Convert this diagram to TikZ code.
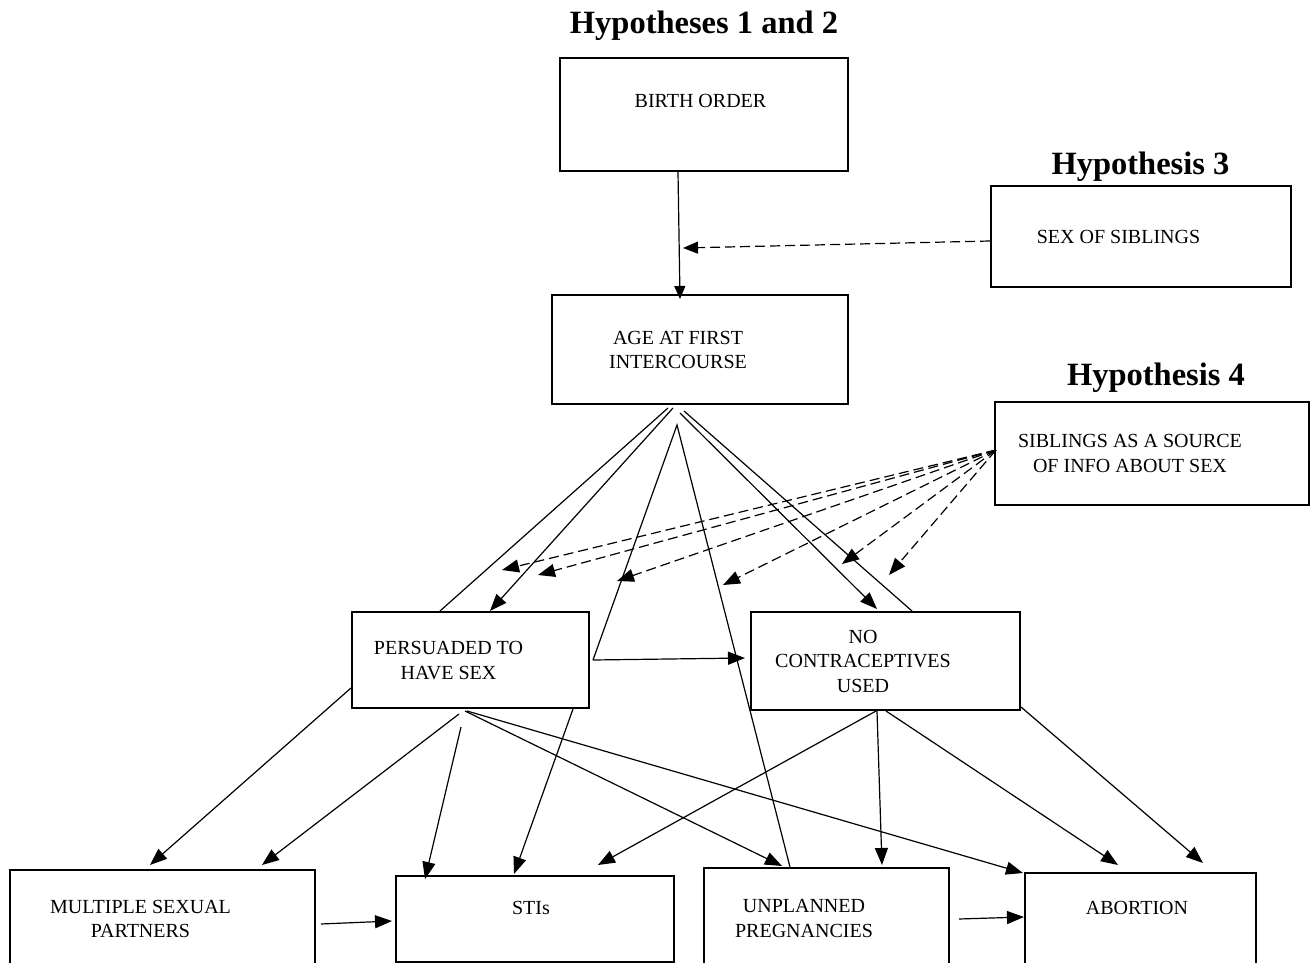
\documentclass[tikz,border=0pt]{standalone}
\usepackage{fontspec}
\setmainfont{Liberation Serif}
\usetikzlibrary{arrows.meta}

\tikzset{
  box/.style={draw, line width=2pt, inner sep=0pt},
  txt/.style={align=center, inner sep=0pt, font=\fontsize{20}{24.5}\selectfont},
  hyp/.style={anchor=base, inner sep=0pt, font=\fontsize{32.5}{36}\selectfont\bfseries},
  link/.style={line width=1.2pt},
  arr/.style={line width=1.2pt, -{Triangle[length=17pt,width=13pt]}},
  darr/.style={arr, dash pattern=on 10pt off 5pt}
}

\begin{document}
\begin{tikzpicture}[x=1pt,y=-1pt]
    \clip (0,0) rectangle (1310,963);
    \fill[white] (0,0) rectangle (1310,963);

    % titles
    \node[hyp] (hyp12) at (704,34) {Hypotheses 1 and 2};
    \node[hyp] (hyp3) at (1140.5,175) {Hypothesis 3};
    \node[hyp] (hyp4) at (1156,385) {Hypothesis 4};

    % boxes
    \node[box, minimum width=288pt, minimum height=113pt] (birth) at (704,114.5) {};
    \node[box, minimum width=300pt, minimum height=101pt] (sexsib) at (1141,236.5) {};
    \node[box, minimum width=296pt, minimum height=109pt] (age) at (700,349.5) {};
    \node[box, minimum width=314pt, minimum height=103pt] (source) at (1152,453.5) {};
    \node[box, minimum width=237pt, minimum height=96pt] (persuaded) at (470.5,660) {};
    \node[box, minimum width=269pt, minimum height=98pt] (nocontra) at (885.5,661) {};
    \node[box, minimum width=305pt, minimum height=120pt] (multiple) at (162.5,930) {};
    \node[box, minimum width=278pt, minimum height=86pt] (stis) at (535,919) {};
    \node[box, minimum width=245pt, minimum height=122pt] (unplanned) at (826.5,929) {};
    \node[box, minimum width=231pt, minimum height=117pt] (abortion) at (1140.5,931.5) {};

    % box texts
    \node[txt] (birthtxt) at (700.5,101) {BIRTH ORDER};
    \node[txt] (sexsibtxt) at (1118.5,237) {SEX OF SIBLINGS};
    \node[txt] (agetxt) at (678,350) {AGE AT FIRST\\INTERCOURSE};
    \node[txt] (sourcetxt) at (1130,453.5) {SIBLINGS AS A SOURCE\\OF INFO ABOUT SEX};
    \node[txt] (persuadedtxt) at (448.5,660.5) {PERSUADED TO\\HAVE SEX};
    \node[txt] (nocontratxt) at (863,661) {NO\\CONTRACEPTIVES\\USED};
    \node[txt] (multipletxt) at (140.5,919) {MULTIPLE SEXUAL\\PARTNERS};
    \node[txt] (ststxt) at (531,908) {STIs};
    \node[txt] (unplannedtxt) at (804,918.5) {UNPLANNED\\PREGNANCIES};
    \node[txt] (abortiontxt) at (1137,908) {ABORTION};

    % free ends
    \coordinate (apex) at (677,425);
    \coordinate (mid) at (683,248);
    \coordinate (d1) at (502,570);
    \coordinate (d2) at (538,575);
    \coordinate (d3) at (617,581);
    \coordinate (d4) at (723,585);
    \coordinate (d5) at (842,564);
    \coordinate (d6) at (889,575);

    % hypotheses 1 and 2
    \draw[arr, -{Triangle[length=13pt,width=11pt]}] ([xshift=-26pt]birth.south) -- ([xshift=-20pt,yshift=-5pt]age.north);
    \draw[darr, -{Triangle[length=15pt,width=12pt]}] ([yshift=-4.5pt]sexsib.west) -- (mid);

    \draw[link] ([xshift=-32pt,yshift=-3pt]age.south) -- ([xshift=-30.5pt]persuaded.north);
    \draw[arr] ([xshift=-27pt,yshift=-3pt]age.south) -- ([xshift=19.5pt]persuaded.north);
    \draw[arr] ([xshift=-20pt,yshift=-8pt]age.south) -- ([xshift=-8.5pt,yshift=2pt]nocontra.north);
    \draw[link] ([xshift=-16pt,yshift=-6pt]age.south) -- ([xshift=26.5pt]nocontra.north);
    \draw[link] ([xshift=3pt]persuaded.east) -- (apex) -- ([xshift=-36.5pt]unplanned.north);
    \draw[arr] ([xshift=3pt]persuaded.east) -- ([xshift=-5pt,yshift=3pt]nocontra.west);

    % hypothesis 4
    \foreach \d in {d1,d2,d3,d4,d5,d6}
      \draw[darr] ([xshift=2pt,yshift=3.5pt]source.west) -- (\d);

    % outcomes
    \draw[arr] ([yshift=-28pt]persuaded.west) -- ([xshift=-12.5pt,yshift=4pt]multiple.north);
    \draw[arr] ([xshift=-11.5pt,yshift=-5pt]persuaded.south) -- ([xshift=99.5pt,yshift=4pt]multiple.north);
    \draw[arr] ([xshift=-9.5pt,yshift=-18pt]persuaded.south) -- ([xshift=-110pt,yshift=-4pt]stis.north);
    \draw[arr] ([xshift=102.5pt]persuaded.south) -- ([xshift=-21pt,yshift=1pt]stis.north);
    \draw[arr] ([xshift=-5.5pt,yshift=-2pt]persuaded.south) -- ([xshift=-44.5pt,yshift=1pt]unplanned.north);
    \draw[arr] ([xshift=-3.5pt,yshift=-2pt]persuaded.south) -- ([xshift=-1pt,yshift=-1pt]abortion.north west);

    \draw[arr] ([xshift=-9.5pt]nocontra.south) -- ([xshift=63pt,yshift=10pt]stis.north);
    \draw[arr] ([xshift=-8.5pt]nocontra.south) -- ([xshift=55.5pt,yshift=2pt]unplanned.north);
    \draw[arr] ([xshift=0.5pt]nocontra.south) -- ([xshift=-22.5pt,yshift=7pt]abortion.north);
    \draw[arr] ([yshift=4pt]nocontra.south east) -- ([xshift=62.5pt,yshift=9pt]abortion.north);

    \draw[arr] ([xshift=5pt,yshift=6pt]multiple.east) -- ([xshift=-3pt,yshift=-2pt]stis.west);
    \draw[arr] ([xshift=9pt,yshift=10pt]unplanned.east) -- ([yshift=14.5pt]abortion.west);
\end{tikzpicture}
\end{document}
